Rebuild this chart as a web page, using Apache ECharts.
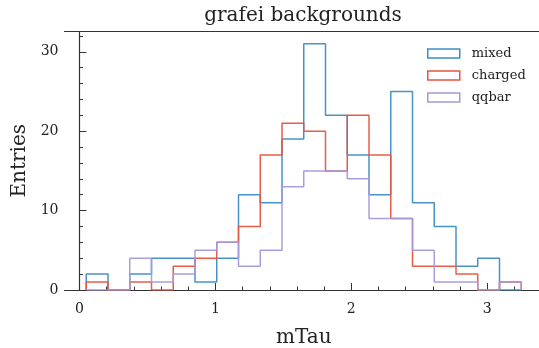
<!DOCTYPE html>
<html><head><meta charset="utf-8">
<script src="https://cdn.jsdelivr.net/npm/echarts@6/dist/echarts.min.js"></script>
<style>html,body{margin:0;padding:0;background:#fff}#c{width:539px;height:348px}</style>
</head><body><div id="c"></div>
<script>
// bin edges of the histogram (20 bins)
const binStart = 0.05;
const binWidth = 0.16;
const mixed   = [2,0,2,4,4,1,4,12,11,19,31,22,17,12,25,11,8,3,4,0];
const charged = [1,0,1,0,3,4,6,8,17,21,20,15,22,17,9,3,3,2,0,1];
const qqbar   = [0,0,4,1,2,5,6,3,5,13,15,15,14,9,9,5,1,1,0,1];
const seriesNames = ['mixed','charged','qqbar'];
const colors = ['#3d8cc4','#e6543e','#a898dc'];
const xMajor = [0,1,2,3];
const yMajor = [0,10,20,30];

const edges = [];
for (let i = 0; i <= mixed.length; i++) edges.push(+(binStart + i*binWidth).toFixed(4));
function stepPts(vals){
  const pts = [[edges[0],0]];
  vals.forEach((v,i)=>{ pts.push([edges[i],v]); pts.push([edges[i+1],v]); });
  pts.push([edges[vals.length],0]);
  return pts;
}
const xMinor = [], yMinor = [];
for (let k = 0; k <= 17; k++) { const v = +(k*0.2).toFixed(2); if (Math.abs(v - Math.round(v))>1e-6) xMinor.push(v); }
for (let k = 2; k <= 32; k += 2) if (k % 10) yMinor.push(k);

const font = 'DejaVu Serif';
const xMin = -0.11, xMax = 3.41, yMax = 32.55;
const axisCol = '#333';
const chart = echarts.init(document.getElementById('c'));
const data = [mixed, charged, qqbar];
chart.setOption({
  animation:false,
  title:{text:'grafei backgrounds', left:298, top:1, textAlign:'center',
    textStyle:{fontFamily:font, fontSize:20, fontWeight:'normal', color:'#222'}},
  legend:{
    data: seriesNames.map((n,i)=>({name:n, icon:'rect',
      itemStyle:{color:'rgba(0,0,0,0)', borderColor:colors[i], borderWidth:1.5}})),
    orient:'vertical', left:422, top:42, itemWidth:32, itemHeight:9, itemGap:9,
    textStyle:{fontFamily:font, fontSize:13, color:'#222', padding:[0,0,0,7]}
  },
  grid:{left:64.5, top:31.5, width:478.5, height:258.5, show:false, outerBoundsMode:'none', containLabel:false},
  xAxis:[
    {type:'value', min:xMin, max:xMax, position:'bottom',
     axisLine:{lineStyle:{color:axisCol, width:1.2}},
     axisTick:{show:true, inside:true, length:7, customValues:xMajor, lineStyle:{color:axisCol}},
     axisLabel:{customValues:xMajor, fontFamily:font, fontSize:14, color:'#222', margin:12},
     splitLine:{show:false},
     name:'mTau', nameLocation:'middle', nameGap:38,
     nameTextStyle:{fontFamily:font, fontSize:20, color:'#222'}},
    {type:'value', min:xMin, max:xMax, position:'bottom',
     axisLine:{show:false},
     axisTick:{show:true, inside:true, length:3.5, customValues:xMinor, lineStyle:{color:axisCol}},
     axisLabel:{show:false}, splitLine:{show:false}},
    {type:'value', min:xMin, max:xMax, position:'top',
     axisLine:{show:true, lineStyle:{color:axisCol, width:1.2}},
     axisTick:{show:false}, axisLabel:{show:false}, splitLine:{show:false}}
  ],
  yAxis:[
    {type:'value', min:0, max:yMax, position:'left',
     axisLine:{show:true, lineStyle:{color:axisCol, width:1.2}},
     axisTick:{show:true, inside:true, length:7, customValues:yMajor, lineStyle:{color:axisCol}},
     axisLabel:{customValues:yMajor, fontFamily:font, fontSize:14, color:'#222', margin:6},
     splitLine:{show:false},
     name:'Entries', nameLocation:'middle', nameGap:34, nameRotate:90,
     nameTextStyle:{fontFamily:font, fontSize:20, color:'#222'}},
    {type:'value', min:0, max:yMax, position:'left',
     axisLine:{show:false},
     axisTick:{show:true, inside:true, length:3.5, customValues:yMinor, lineStyle:{color:axisCol}},
     axisLabel:{show:false}, splitLine:{show:false}}
  ],
  series: data.map((vals,i)=>({
    name:seriesNames[i], type:'line', xAxisIndex:0, yAxisIndex:0,
    data:stepPts(vals), showSymbol:false, symbol:'none', z:2+i,
    lineStyle:{color:colors[i], width:1.5, opacity:0.95},
    itemStyle:{color:colors[i]}
  }))
});
</script></body></html>
